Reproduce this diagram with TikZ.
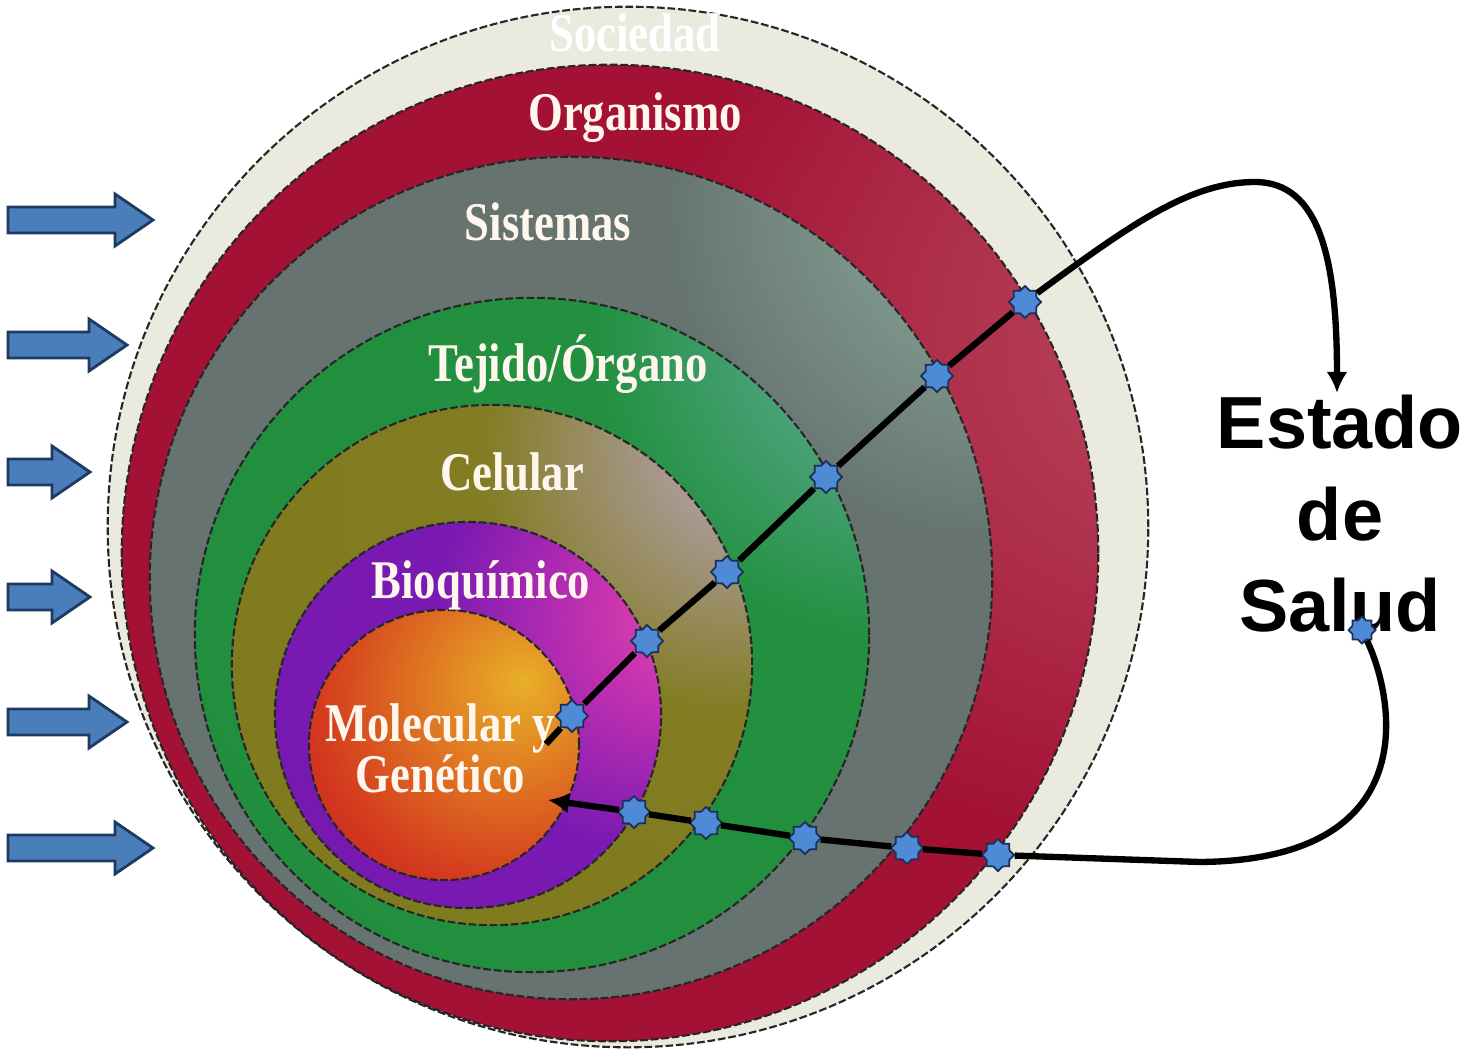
\documentclass[tikz,border=0pt]{standalone}
\usepackage{fontspec}
\setmainfont{Liberation Serif}
\newfontfamily\ringfont[FakeStretch=0.82]{Liberation Serif}
\newfontfamily\saludfont{Liberation Sans}
\usetikzlibrary{shapes.geometric,arrows.meta,positioning}

\definecolor{socfill}{HTML}{EBEADF}
\definecolor{labelwhite}{HTML}{FFF6EE}
\definecolor{arrowblue}{HTML}{4A7EBB}
\definecolor{arrownavy}{HTML}{1F3A60}
\definecolor{starblue}{HTML}{4E8AD6}
\definecolor{starnavy}{HTML}{1B2F5A}

\definecolor{orgA}{HTML}{BC4A60}
\definecolor{orgB}{HTML}{AD2C48}
\definecolor{orgC}{HTML}{A31235}
\definecolor{orgD}{HTML}{C0123B}
\definecolor{sisA}{HTML}{A8C4B4}
\definecolor{sisB}{HTML}{84A094}
\definecolor{sisC}{HTML}{66736F}
\definecolor{sisD}{HTML}{6A7474}
\definecolor{tejA}{HTML}{A8D4CC}
\definecolor{tejB}{HTML}{5AA890}
\definecolor{tejC}{HTML}{22903F}
\definecolor{tejD}{HTML}{1E8A3A}
\definecolor{celA}{HTML}{D0B8C8}
\definecolor{celB}{HTML}{A8988E}
\definecolor{celC}{HTML}{827C22}
\definecolor{celD}{HTML}{7A7614}
\definecolor{bioA}{HTML}{E84AA8}
\definecolor{bioB}{HTML}{C030B0}
\definecolor{bioC}{HTML}{7A1AB2}
\definecolor{bioD}{HTML}{6A10A8}
\definecolor{molA}{HTML}{E8B028}
\definecolor{molB}{HTML}{E07A22}
\definecolor{molC}{HTML}{D43C1E}
\definecolor{molD}{HTML}{C0181C}

% one shading per level, lighter towards the upper right
\pgfdeclareradialshading{shOrg}{\pgfpoint{32bp}{12bp}}{color(0bp)=(orgA); color(14bp)=(orgB); color(24bp)=(orgC); color(55bp)=(orgC); color(90bp)=(orgD); color(130bp)=(orgD)}
\pgfdeclareradialshading{shSis}{\pgfpoint{30bp}{26bp}}{color(0bp)=(sisA); color(8bp)=(sisB); color(20bp)=(sisC); color(130bp)=(sisD)}
\pgfdeclareradialshading{shTej}{\pgfpoint{32bp}{26bp}}{color(0bp)=(tejA); color(8bp)=(tejB); color(22bp)=(tejC); color(130bp)=(tejD)}
\pgfdeclareradialshading{shCel}{\pgfpoint{28bp}{24bp}}{color(0bp)=(celA); color(10bp)=(celB); color(24bp)=(celC); color(130bp)=(celD)}
\pgfdeclareradialshading{shBio}{\pgfpoint{30bp}{14bp}}{color(0bp)=(bioA); color(12bp)=(bioB); color(28bp)=(bioC); color(130bp)=(bioD)}
\pgfdeclareradialshading{shMol}{\pgfpoint{15bp}{12bp}}{color(0bp)=(molA); color(16bp)=(molB); color(34bp)=(molC); color(50bp)=(molD); color(130bp)=(molD)}

\tikzset{
  ring/.style={draw=black!85, line width=0.6pt, dash pattern=on 2.2pt off 0.8pt},
  ringlabel/.style={text=labelwhite, font=\ringfont\bfseries\fontsize{15.5}{14.5}\selectfont,
    inner sep=0pt, anchor=base},
  waypoint/.style={star, star points=8, star point ratio=1.3, minimum size=0.32cm,
    inner sep=0pt, fill=starblue, draw=starnavy, line width=0.5pt},
  flow/.style={line width=1.8pt, black},
  inarrow/.style={fill=arrowblue, draw=arrownavy, line width=0.8pt, line join=miter}
}

\begin{document}
\begin{tikzpicture}[x=0.01cm, y=-0.01cm]
  \useasboundingbox (0,0) rectangle (1484,1054);
  \clip (0,0) rectangle (1484,1054);

  % levels, outermost first
  \draw[ring, fill=socfill] (628,527) circle[radius=5.2cm];
  \shadedraw[ring, shading=shOrg] (610,553) circle[radius=4.88cm];
  \shadedraw[ring, shading=shSis] (571,578) circle[radius=4.21cm];
  \shadedraw[ring, shading=shTej] (532,635) circle[radius=3.37cm];
  \shadedraw[ring, shading=shCel] (492,665) circle[radius=2.6cm];
  \shadedraw[ring, shading=shBio] (468,715) circle[radius=1.93cm];
  \shadedraw[ring, shading=shMol] (444,745) circle[radius=1.35cm];

  \node[ringlabel, text=white] (soc) at (635,51) {Sociedad};
  \node[ringlabel] (org) at (635,130) {Organismo};
  \node[ringlabel] (sis) at (548,240) {Sistemas};
  \node[ringlabel] (tej) at (568,381) {Tejido/Órgano};
  \node[ringlabel] (cel) at (512,490) {Celular};
  \node[ringlabel] (bio) at (481,598) {Bioquímico};
  \node[ringlabel, anchor=center, align=center] (mol) at (440,748) {Molecular y\\Genético};

  % incoming arrows
  \foreach \y/\tip in {220/153, 345/127, 472/90, 597/90, 722/127, 848/153}
    \draw[inarrow] (8,\y-13) -- (\tip-38,\y-13) -- (\tip-38,\y-26) -- (\tip,\y)
      -- (\tip-38,\y+26) -- (\tip-38,\y+13) -- (8,\y+13) -- cycle;

  \node[font=\saludfont\bfseries\fontsize{21}{26}\selectfont, align=center, inner sep=0pt]
    (salud) at (1340,514) {Estado\\de\\Salud};

  % waypoints
  \coordinate (mStart) at (546,744);
  \node[waypoint] (a1) at (572,716) {};
  \node[waypoint] (a2) at (647,641) {};
  \node[waypoint] (a3) at (727,572) {};
  \node[waypoint] (a4) at (826,477) {};
  \node[waypoint] (a5) at (937,376) {};
  \node[waypoint] (a6) at (1025,302) {};
  \coordinate (eIn) at (1337,393);

  \node[waypoint, minimum size=0.27cm] (b0) at (1362,630) {};
  \node[waypoint] (b1) at (998,855) {};
  \node[waypoint] (b2) at (907,848) {};
  \node[waypoint] (b3) at (805,838) {};
  \node[waypoint] (b4) at (706,823) {};
  \node[waypoint] (b5) at (634,812) {};
  \coordinate (mEnd) at (548,800);

  % outward path
  \draw[flow] (mStart) -- (a1);
  \foreach \p/\q in {a1/a2, a2/a3, a3/a4, a4/a5, a5/a6}
    \draw[flow] (\p) -- (\q);
  \draw[flow, -{Latex[length=6pt, width=6pt]}] (a6) .. controls (1130,225) and (1190,182) .. (1255,182)
    .. controls (1320,182) and (1337,260) .. (eIn);

  % return path
  \draw[flow] (b0) .. controls (1395,700) and (1425,860) .. (1200,862) -- (b1);
  \foreach \p/\q in {b1/b2, b2/b3, b3/b4, b4/b5}
    \draw[flow] (\p) -- (\q);
  \draw[flow, -{Latex[length=6pt, width=6pt]}] (b5) -- (mEnd);
\end{tikzpicture}
\end{document}
